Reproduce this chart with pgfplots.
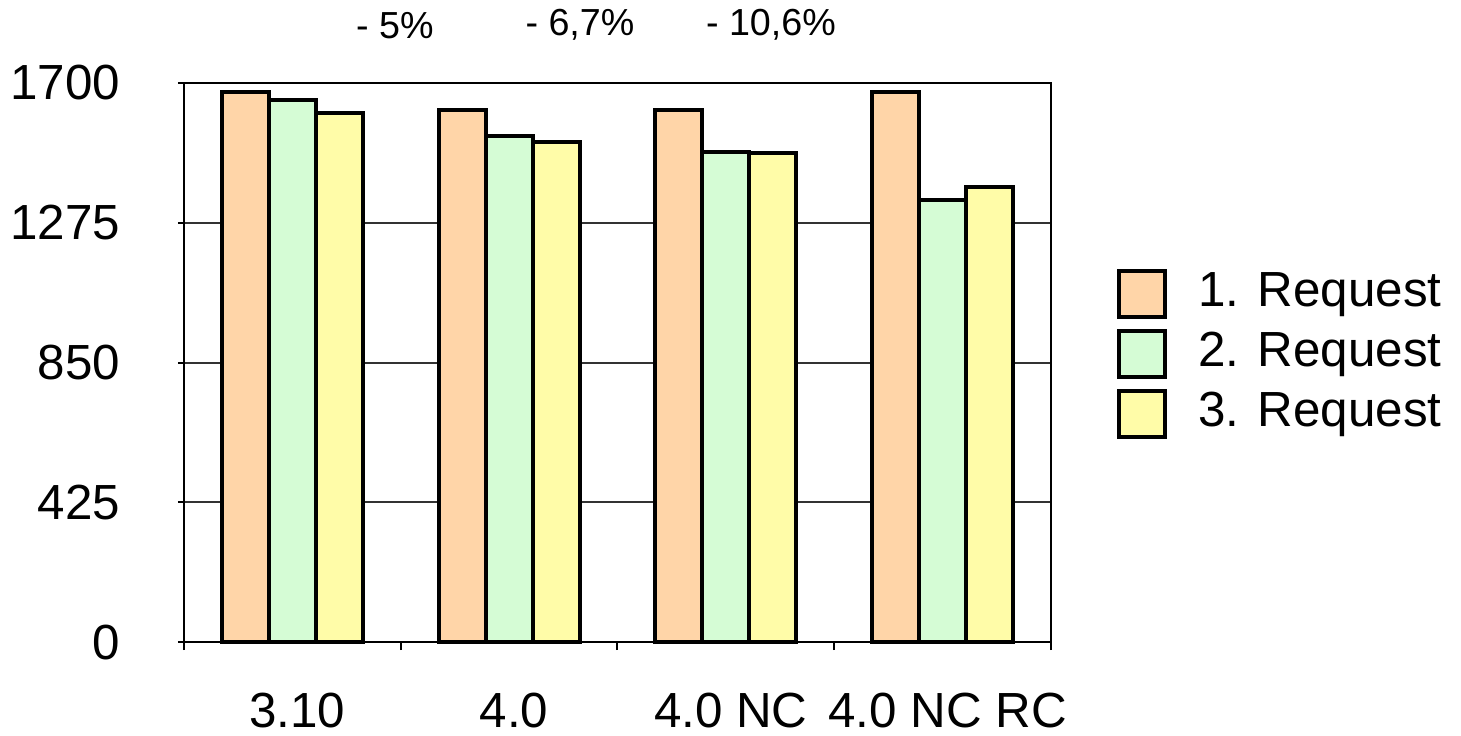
\documentclass[border=0pt]{standalone}
\usepackage{fontspec}
\setmainfont{Liberation Sans}
\usepackage{pgfplots}
\pgfplotsset{compat=1.18}

\definecolor{req1}{RGB}{255,213,168}
\definecolor{req2}{RGB}{213,252,213}
\definecolor{req3}{RGB}{255,252,168}

\begin{document}
\begin{tikzpicture}[font=\fontsize{14.8}{18}\selectfont]
	\path[use as bounding box] (-55.2pt,-27.9pt) rectangle (383.1pt,192.6pt);
	\begin{axis}[
		scale only axis,
		width=260.1pt,height=167.7pt,
		at={(0,0)},anchor=south west,
		ybar=0pt,
		bar width=14.1pt,
		xmin=-0.5,xmax=3.5,
		ymin=0,ymax=1700,
		xtick={0,1,2,3},
		xticklabels={3.10,4.0,4.0 NC,4.0 NC RC},
		minor xtick={-0.5,0.5,1.5,2.5,3.5},
		major x tick style={draw=none},
		minor tick length=2.4pt,
		ytick={0,425,850,1275,1700},
		major tick length=1.8pt,
		tick align=outside,
		tick pos=left,
		ymajorgrids=true,
		grid style={black!80,line width=0.6pt},
		axis line style={black,line width=0.6pt},
		tick style={black,line width=0.6pt},
		/pgf/number format/assume math mode=true,
		/pgf/number format/1000 sep={},
		xticklabel style={yshift=-10pt,xshift=1.5pt},
		yticklabel style={xshift=-13.8pt},
		clip=false,
		legend style={
			at={(1.075,0.515)},anchor=west,
			draw=none,fill=none,inner sep=0pt,
			row sep=3pt,
			nodes={inner ysep=0pt,text height=10.8pt,text depth=3.1pt},
			/tikz/every odd column/.style={column sep=7.5pt},
		},
		legend cell align=left,
		legend image code/.code={\draw[#1,/tikz/.cd] (0pt,-6.9pt) rectangle (13.8pt,6.9pt);},
		]
		\addplot[draw=black,line width=1.2pt,fill=req1] coordinates {
			(0,1674) (1,1618) (2,1618) (3,1674)
		};
		\addlegendentry{1. Request}
		\addplot[draw=black,line width=1.2pt,fill=req2] coordinates {
			(0,1648) (1,1540) (2,1491) (3,1344)
		};
		\addlegendentry{2. Request}
		\addplot[draw=black,line width=1.2pt,fill=req3] coordinates {
			(0,1608) (1,1522) (2,1486) (3,1385)
		};
		\addlegendentry{3. Request}
		\node[font=\fontsize{11.3}{13}\selectfont] at (axis cs:0.473,1876) {- 5\%};
		\node[font=\fontsize{11.3}{13}\selectfont] at (axis cs:1.327,1876) {- 6,7\%};
		\node[font=\fontsize{11.3}{13}\selectfont] at (axis cs:2.208,1876) {- 10,6\%};
	\end{axis}
\end{tikzpicture}
\end{document}
